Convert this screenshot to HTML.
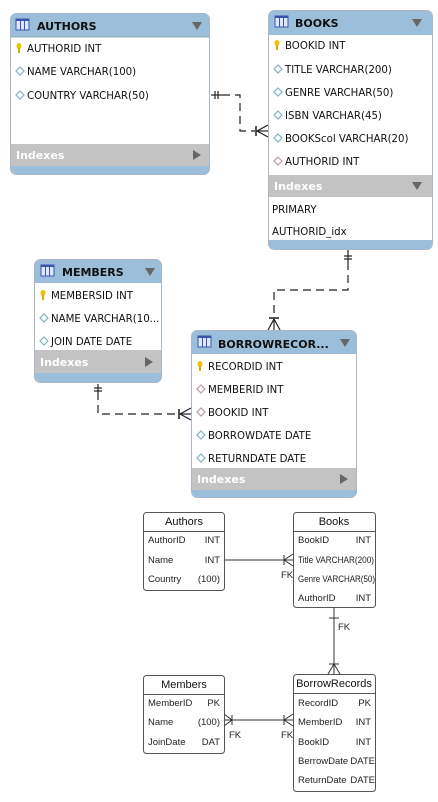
<!DOCTYPE html>
<html><head><meta charset="utf-8"><style>
html,body{margin:0;padding:0;background:#fff;}
svg{display:block;}
.t{font-family:"DejaVu Sans",sans-serif;font-size:10.2px;fill:#111;}
.h{font-family:"DejaVu Sans",sans-serif;font-size:11px;font-weight:bold;fill:#111;}
.ix{font-family:"DejaVu Sans",sans-serif;font-size:11px;font-weight:bold;fill:#fff;}
.s{font-family:"Liberation Sans",sans-serif;font-size:9.5px;fill:#222;}
.sh{font-family:"Liberation Sans",sans-serif;font-size:11px;fill:#111;}
</style></head><body>
<svg width="438" height="802" viewBox="0 0 438 802" xmlns="http://www.w3.org/2000/svg">
<defs>
<g id="tic"><rect x="0" y="0" width="13" height="11" fill="#dfe6ff" stroke="#3a55b0"/><line x1="4.5" y1="1" x2="4.5" y2="11" stroke="#3a55b0"/><line x1="8.5" y1="1" x2="8.5" y2="11" stroke="#3a55b0"/><rect x="0" y="0" width="13" height="2" fill="#3a55b0"/></g>
<g id="key"><ellipse cx="3" cy="3" rx="2.5" ry="3" fill="#f2c200"/><rect x="2" y="5" width="2" height="5" fill="#d8a800"/></g>
<g id="dia"><path d="M4 0 L8 4 L4 8 L0 4 Z" fill="#fff" stroke="#7fb3bf" stroke-width="1.2"/></g>
<g id="fk"><path d="M4 0 L8 4 L4 8 L0 4 Z" fill="#fff" stroke="#c09a9a" stroke-width="1.2"/></g>
<path id="dn" d="M0 0 L10 0 L5 8 Z" fill="#666"/>
<path id="rt" d="M0 0 L8 5 L0 10 Z" fill="#666"/>
</defs>

<g stroke="#222" stroke-width="1.2" fill="none" stroke-dasharray="8,5">
<path d="M222 95 H240 V131 H256"/>
<path d="M348 262 V290 H274 V318"/>
<path d="M98 392 V414 H178"/>
</g>
<g stroke="#222" stroke-width="1.2" fill="none">
<line x1="211" y1="95" x2="222" y2="95"/><line x1="215" y1="91" x2="215" y2="99"/><line x1="218" y1="91" x2="218" y2="99"/>
<line x1="256" y1="131" x2="268" y2="131"/><line x1="256" y1="126" x2="256" y2="136" stroke="#555" stroke-width="2"/><path d="M268 125 L257 131 L268 137"/>
<line x1="348" y1="250" x2="348" y2="262"/><line x1="344" y1="256" x2="352" y2="256"/><line x1="344" y1="259" x2="352" y2="259"/>
<line x1="274" y1="318" x2="274" y2="330"/><line x1="269" y1="318" x2="279" y2="318" stroke="#555" stroke-width="2"/><path d="M268 330 L274 319 L280 330"/>
<line x1="98" y1="384" x2="98" y2="392"/><line x1="94" y1="388" x2="102" y2="388"/><line x1="94" y1="391" x2="102" y2="391"/>
<line x1="178" y1="414" x2="191" y2="414"/><line x1="179" y1="409" x2="179" y2="419" stroke="#555" stroke-width="2"/><path d="M191 408 L180 414 L191 420"/>
</g>

<rect x="10.5" y="13.5" width="199" height="161" rx="6" fill="#9bbfda" stroke="#a8b8c8"/>
<rect x="11" y="37" width="198" height="107" fill="#fff"/>
<rect x="11" y="144" width="198" height="22" fill="#c3c3c3"/>
<line x1="11" y1="37" x2="209" y2="37" stroke="#8aa"/>
<use href="#tic" x="16" y="19"/>
<text class="h" x="37" y="30">AUTHORS</text>
<use href="#dn" x="192" y="22"/>
<use href="#key" x="16" y="43"/><text class="t" x="27" y="52">AUTHORID INT</text>
<use href="#dia" x="16" y="67"/><text class="t" x="27" y="75">NAME VARCHAR(100)</text>
<use href="#dia" x="16" y="91"/><text class="t" x="27" y="99">COUNTRY VARCHAR(50)</text>
<text class="ix" x="16" y="159">Indexes</text>
<use href="#rt" x="193" y="150"/>

<rect x="268.5" y="10.5" width="164" height="239" rx="6" fill="#9bbfda" stroke="#a8b8c8"/>
<rect x="269" y="35" width="163" height="140" fill="#fff"/>
<rect x="269" y="175" width="163" height="22" fill="#c3c3c3"/>
<rect x="269" y="197" width="163" height="43" fill="#fff"/>
<use href="#tic" x="275" y="16"/>
<text class="h" x="295" y="27">BOOKS</text>
<use href="#dn" x="412" y="19"/>
<use href="#key" x="274" y="40"/><text class="t" x="285" y="49">BOOKID INT</text>
<use href="#dia" x="274" y="65"/><text class="t" x="285" y="73">TITLE VARCHAR(200)</text>
<use href="#dia" x="274" y="88"/><text class="t" x="285" y="96">GENRE VARCHAR(50)</text>
<use href="#dia" x="274" y="111"/><text class="t" x="285" y="119">ISBN VARCHAR(45)</text>
<use href="#dia" x="274" y="134"/><text class="t" x="285" y="142">BOOKScol VARCHAR(20)</text>
<use href="#fk" x="274" y="157"/><text class="t" x="285" y="165">AUTHORID INT</text>
<text class="ix" x="274" y="190">Indexes</text>
<use href="#dn" x="412" y="182"/>
<text class="t" x="272" y="213">PRIMARY</text>
<text class="t" x="272" y="235">AUTHORID_idx</text>

<rect x="34.5" y="259.5" width="127" height="123" rx="6" fill="#9bbfda" stroke="#a8b8c8"/>
<rect x="35" y="283" width="126" height="67" fill="#fff"/>
<rect x="35" y="350" width="126" height="23" fill="#c3c3c3"/>
<use href="#tic" x="41" y="265"/>
<text class="h" x="62" y="276">MEMBERS</text>
<use href="#dn" x="145" y="268"/>
<use href="#key" x="40" y="290"/><text class="t" x="51" y="299">MEMBERSID INT</text>
<use href="#dia" x="40" y="314"/><text class="t" x="51" y="322">NAME VARCHAR(10...</text>
<use href="#dia" x="40" y="337"/><text class="t" x="51" y="345">JOIN DATE DATE</text>
<text class="ix" x="40" y="366">Indexes</text>
<use href="#rt" x="145" y="357"/>

<rect x="191.5" y="330.5" width="165" height="167" rx="6" fill="#9bbfda" stroke="#a8b8c8"/>
<rect x="192" y="354" width="164" height="114" fill="#fff"/>
<rect x="192" y="468" width="164" height="22" fill="#c3c3c3"/>
<use href="#tic" x="198" y="336"/>
<text class="h" x="218" y="348">BORROWRECOR...</text>
<use href="#dn" x="340" y="339"/>
<use href="#key" x="197" y="361"/><text class="t" x="208" y="370">RECORDID INT</text>
<use href="#fk" x="197" y="385"/><text class="t" x="208" y="393">MEMBERID INT</text>
<use href="#fk" x="197" y="408"/><text class="t" x="208" y="416">BOOKID INT</text>
<use href="#dia" x="197" y="431"/><text class="t" x="208" y="439">BORROWDATE DATE</text>
<use href="#dia" x="197" y="454"/><text class="t" x="208" y="462">RETURNDATE DATE</text>
<text class="ix" x="197" y="483">Indexes</text>
<use href="#rt" x="340" y="474"/>

<g stroke="#333" stroke-width="1" fill="none">
<line x1="224" y1="560" x2="293" y2="560"/><path d="M293 554 L284 560 L293 566"/><line x1="284" y1="555" x2="284" y2="565"/>
<line x1="334" y1="608" x2="334" y2="674"/><line x1="329" y1="618" x2="339" y2="618"/><path d="M328 674 L334 664 L340 674"/><line x1="329" y1="664" x2="339" y2="664"/>
<line x1="224" y1="720" x2="293" y2="720"/><path d="M224 714 L232 720 L224 726"/><line x1="232" y1="715" x2="232" y2="725"/><path d="M293 714 L284 720 L293 726"/><line x1="284" y1="715" x2="284" y2="725"/>
</g>
<text class="s" x="281" y="578">FK</text>
<text class="s" x="338" y="630">FK</text>
<text class="s" x="229" y="738">FK</text>
<text class="s" x="281" y="738">FK</text>

<g fill="#fff" stroke="#555" stroke-width="1">
<rect x="143.5" y="512.5" width="81" height="78" rx="3"/>
<rect x="293.5" y="512.5" width="82" height="95" rx="3"/>
<rect x="143.5" y="675.5" width="81" height="78" rx="3"/>
<rect x="293.5" y="674.5" width="82" height="117" rx="3"/>
</g>
<g stroke="#555"><line x1="144" y1="531.5" x2="224" y2="531.5"/><line x1="294" y1="531.5" x2="375" y2="531.5"/><line x1="144" y1="694.5" x2="224" y2="694.5"/><line x1="294" y1="693.5" x2="375" y2="693.5"/></g>

<text class="sh" x="184" y="525" text-anchor="middle">Authors</text>
<text class="s" x="148" y="543">AuthorID</text><text class="s" x="220" y="543" text-anchor="end">INT</text>
<text class="s" x="148" y="563">Name</text><text class="s" x="220" y="563" text-anchor="end">INT</text>
<text class="s" x="148" y="582">Country</text><text class="s" x="220" y="582" text-anchor="end">(100)</text>

<text class="sh" x="334" y="525" text-anchor="middle">Books</text>
<text class="s" x="298" y="543">BookID</text><text class="s" x="371" y="543" text-anchor="end">INT</text>
<text class="s" x="298" y="563" textLength="76" lengthAdjust="spacingAndGlyphs">Title VARCHAR(200)</text>
<text class="s" x="298" y="582" textLength="77" lengthAdjust="spacingAndGlyphs">Genre VARCHAR(50)</text>
<text class="s" x="298" y="601">AuthorID</text><text class="s" x="371" y="601" text-anchor="end">INT</text>

<text class="sh" x="184" y="688" text-anchor="middle">Members</text>
<text class="s" x="148" y="706">MemberID</text><text class="s" x="220" y="706" text-anchor="end">PK</text>
<text class="s" x="148" y="725">Name</text><text class="s" x="220" y="725" text-anchor="end">(100)</text>
<text class="s" x="148" y="745">JoinDate</text><text class="s" x="220" y="745" text-anchor="end">DAT</text>

<text class="sh" x="334" y="687" text-anchor="middle">BorrowRecords</text>
<text class="s" x="298" y="706">RecordID</text><text class="s" x="371" y="706" text-anchor="end">PK</text>
<text class="s" x="298" y="725">MemberID</text><text class="s" x="371" y="725" text-anchor="end">INT</text>
<text class="s" x="298" y="745">BookID</text><text class="s" x="371" y="745" text-anchor="end">INT</text>
<text class="s" x="298" y="764">BerrowDate</text><text class="s" x="375" y="764" text-anchor="end">DATE</text>
<text class="s" x="298" y="783">ReturnDate</text><text class="s" x="375" y="783" text-anchor="end">DATE</text>
</svg>
</body></html>
